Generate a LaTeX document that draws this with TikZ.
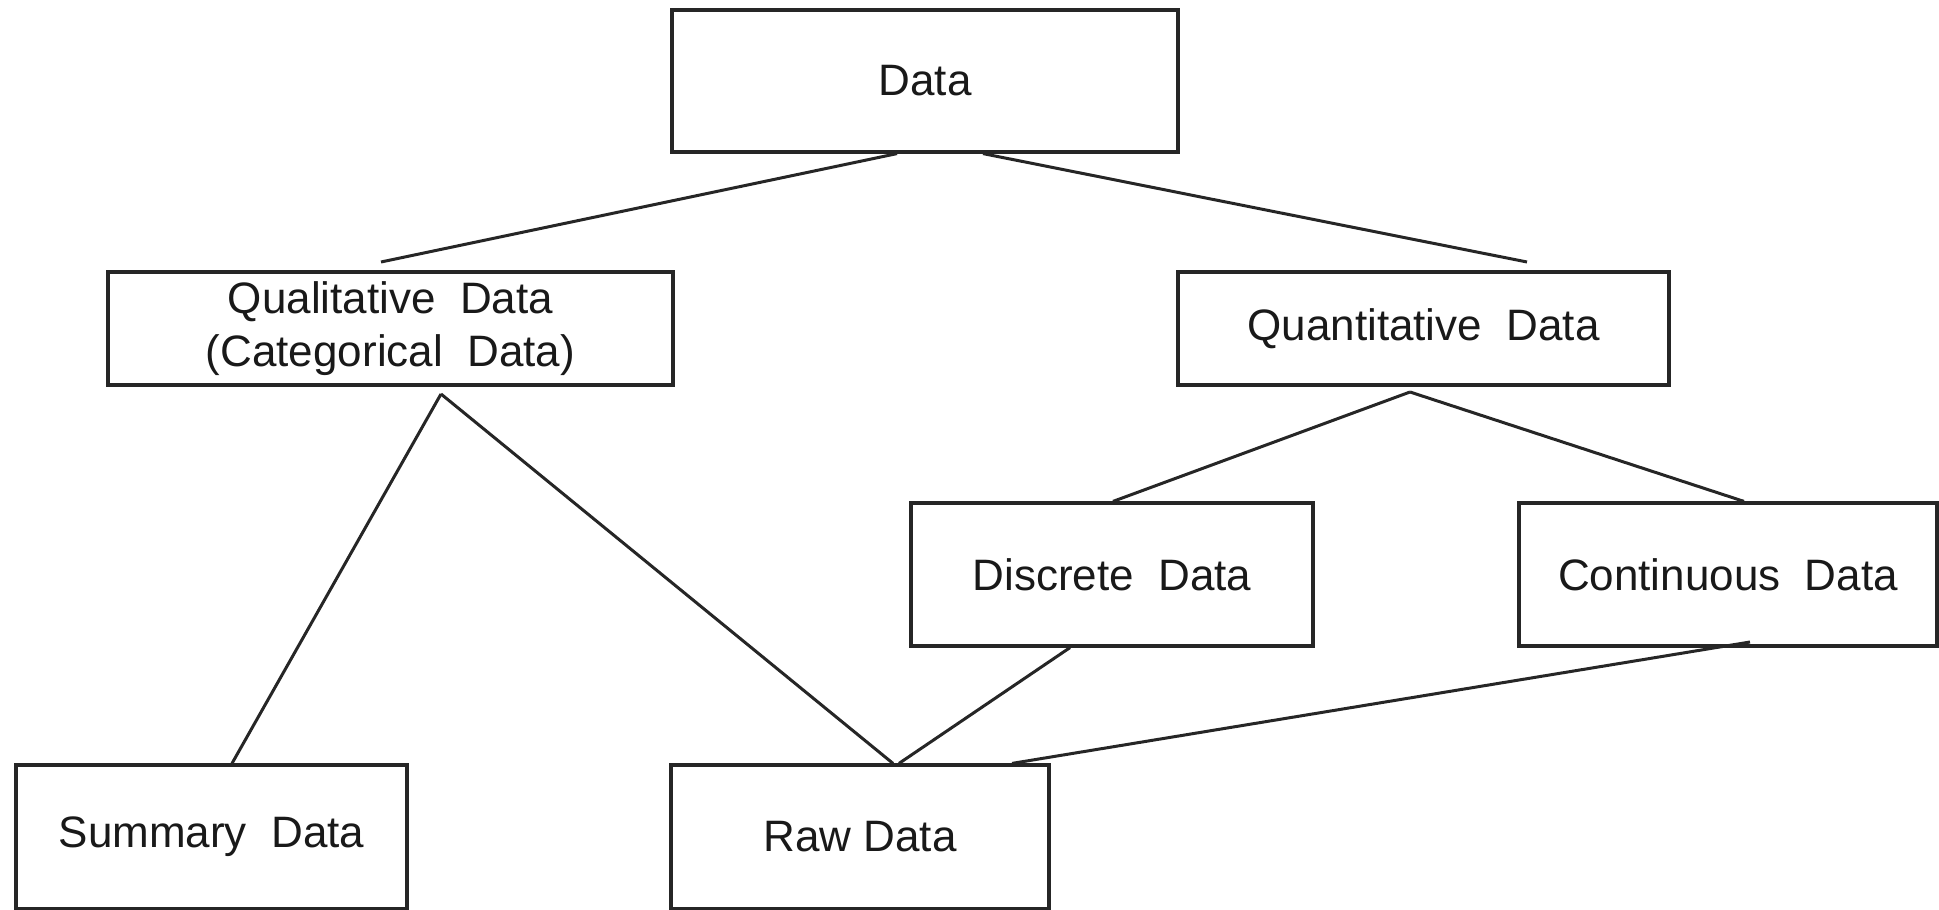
\documentclass[tikz,border=0pt]{standalone}
\usepackage{fontspec}
\setmainfont{Liberation Sans}
\usetikzlibrary{calc}
\begin{document}
\begin{tikzpicture}[x=1pt,y=-1pt,
  box/.style={draw=black!85,line width=3.2pt,inner sep=0pt,align=center,
    font=\fontsize{44}{53}\selectfont,text=black!90},
  conn/.style={draw=black!85,line width=3pt}]
\useasboundingbox (0,0) rectangle (1939,910);
\node[box,minimum width=506pt,minimum height=142pt] (data) at (925,81) {Data};
\node[box,minimum width=565pt,minimum height=113pt] (qual) at (390.5,328.5) {Qualitative~~Data\\(Categorical~~Data)};
\node[box,minimum width=491pt,minimum height=113pt] (quant) at (1423.5,328.5) {Quantitative~~Data};
\node[box,minimum width=402pt,minimum height=143pt] (disc) at (1112,574.5) {Discrete~~Data};
\node[box,minimum width=418pt,minimum height=143pt] (cont) at (1728,574.5) {Continuous~~Data};
\node[box,minimum width=391pt,minimum height=144pt] (summ) at (211.5,837) {Summary~~Data};
\node[box,minimum width=378pt,minimum height=144pt] (raw) at (860,837) {Raw Data};
\coordinate (qualtop) at (381,262);
\coordinate (quanttop) at (1527,262);
\coordinate (qualbot) at (441,394);
\coordinate (quantbot) at (1410,392);
\coordinate (contbot) at (1750,642);
\draw[conn] ([xshift=-28pt]data.south) -- (qualtop);
\draw[conn] ([xshift=58pt]data.south) -- (quanttop);
\draw[conn] (qualbot) -- ([xshift=20.5pt]summ.north);
\draw[conn] (qualbot) -- ([xshift=33pt]raw.north);
\draw[conn] (quantbot) -- ([xshift=1pt]disc.north);
\draw[conn] (quantbot) -- ([xshift=16pt]cont.north);
\draw[conn] ([xshift=-42pt]disc.south) -- ([xshift=39pt]raw.north);
\draw[conn] (contbot) -- ([xshift=152pt]raw.north);
\end{tikzpicture}
\end{document}
